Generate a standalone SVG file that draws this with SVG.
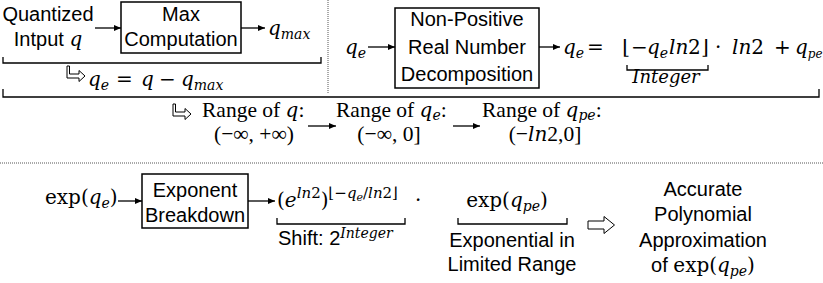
<svg xmlns="http://www.w3.org/2000/svg" width="823" height="283" viewBox="0 0 823 283">
<defs>
<style>
.s{font-family:"Liberation Sans",Arial,sans-serif;font-size:20px;fill:#000}
.m{font-family:"DejaVu Serif","Liberation Serif",serif;font-size:20px;fill:#000}
.r{font-family:"Liberation Serif","DejaVu Serif",serif;font-size:21.5px;fill:#000}
.i{font-style:italic}
.box{fill:#fff;stroke:#000;stroke-width:1.5}
.br{fill:none;stroke:#000;stroke-width:1.3}
.ln{fill:none;stroke:#000;stroke-width:1.3}
.dot{fill:none;stroke:#555;stroke-width:1;stroke-dasharray:1 1}
.hook{fill:#fff;stroke:#000;stroke-width:1}
</style>
<marker id="ah" markerWidth="7" markerHeight="6" refX="7" refY="3" orient="auto" markerUnits="userSpaceOnUse"><path d="M0,0 L7,3 L0,6 Z" fill="#000"/></marker>
<path id="hookShape" d="M0,0 H2.5 V8 H12 V4.5 L18,10 L12,15.5 V12 H0 Z"/>
</defs>
<rect width="823" height="283" fill="#fff"/>

<g id="separators">
<line class="dot" x1="328" y1="0" x2="328" y2="93"/>
<line class="dot" x1="0" y1="163" x2="823" y2="163"/>
</g>

<g id="brackets">
<path class="br" d="M3,57 V63 H321 V57"/>
<path class="br" d="M627,65 V70 H708 V65"/>
<path class="br" d="M3,89 V97 H819 V89" stroke-width="1.6"/>
<path class="br" d="M277,218 V224 H405 V218"/>
<path class="br" d="M458,218 V224 H567 V218"/>
</g>

<g id="connectors">
<line class="ln" x1="95" y1="28" x2="121" y2="28" marker-end="url(#ah)"/>
<line class="ln" x1="241" y1="28" x2="265" y2="28" marker-end="url(#ah)"/>
<line class="ln" x1="368" y1="47" x2="395" y2="47" marker-end="url(#ah)"/>
<line class="ln" x1="539" y1="47" x2="560" y2="47" marker-end="url(#ah)"/>
<line class="ln" x1="308" y1="126" x2="336" y2="126" marker-end="url(#ah)"/>
<line class="ln" x1="453" y1="126" x2="480" y2="126" marker-end="url(#ah)"/>
<line class="ln" x1="118" y1="201" x2="142" y2="201" marker-end="url(#ah)"/>
<line class="ln" x1="248" y1="201" x2="275" y2="201" marker-end="url(#ah)"/>
<use href="#hookShape" class="hook" transform="translate(67,66)"/>
<use href="#hookShape" class="hook" transform="translate(173,104)"/>
<path class="hook" d="M588,221 H604 V216.5 L614.5,225 L604,233.5 V229 H588 Z"/>
</g>

<g id="input">
<text class="s" x="48" y="21" text-anchor="middle">Quantized</text>
<text x="48" y="46" text-anchor="middle"><tspan class="s">Intput </tspan><tspan class="m i">q</tspan></text>
</g>

<g id="max-computation">
<rect class="box" x="121" y="2" width="120" height="51"/>
<text class="s" x="181" y="21" text-anchor="middle">Max</text>
<text class="s" x="181" y="46" text-anchor="middle">Computation</text>
</g>

<g id="qmax">
<text class="m i" x="268" y="35">q<tspan style="font-size:14px" dy="4">max</tspan></text>
</g>

<g id="qe-def">
<text class="m" y="86"><tspan class="i" x="88">q</tspan><tspan class="i" style="font-size:14px" dy="4">e</tspan><tspan dy="-4" x="116">=</tspan><tspan class="i" x="141">q</tspan><tspan x="159">−</tspan><tspan class="i" x="181">q</tspan><tspan class="i" style="font-size:14px" dy="4">max</tspan></text>
</g>

<g id="qe-in">
<text class="m i" x="345" y="54">q<tspan style="font-size:14px" dy="4">e</tspan></text>
</g>

<g id="decomposition">
<rect class="box" x="395" y="8" width="144" height="80"/>
<text class="s" x="467" y="26" text-anchor="middle">Non-Positive</text>
<text class="s" x="467" y="54" text-anchor="middle">Real Number</text>
<text class="s" x="467" y="81" text-anchor="middle">Decomposition</text>
</g>

<g id="decomp-eq">
<text class="m" y="54"><tspan class="i" x="563">q</tspan><tspan class="i" style="font-size:14px" dy="4">e</tspan><tspan dy="-4" x="587">=</tspan><tspan x="622">⌊</tspan><tspan x="631">−</tspan><tspan class="i" x="647">q</tspan><tspan class="i" style="font-size:14px" dy="4">e</tspan><tspan class="i" dy="-4" x="669">ln</tspan><tspan x="688">2</tspan><tspan x="701">⌋</tspan><tspan x="715">·</tspan><tspan class="i" x="732">ln</tspan><tspan>2</tspan><tspan x="774">+</tspan><tspan class="i" x="795">q</tspan><tspan class="i" style="font-size:12px" dy="4">pe</tspan></text>
<text class="m i" x="666" y="83" style="font-size:18px" text-anchor="middle">Integer</text>
</g>

<g id="ranges">
<text class="r" x="202" y="117">Range of <tspan class="m i">q</tspan>:</text>
<text class="r" x="254" y="141" text-anchor="middle">(−∞, +∞)</text>
<text class="r" x="336" y="117">Range of <tspan class="m i">q</tspan><tspan class="m i" style="font-size:14px" dy="3">e</tspan><tspan dy="-3">:</tspan></text>
<text class="r" x="389" y="141" text-anchor="middle">(−∞, 0]</text>
<text class="r" x="482" y="117">Range of <tspan class="m i">q</tspan><tspan class="m i" style="font-size:14px" dy="3">pe</tspan><tspan dy="-3">:</tspan></text>
<text class="r" x="545" y="141" text-anchor="middle">(−<tspan class="m i">ln</tspan>2,0]</text>
</g>

<g id="exp-in">
<text class="m" x="45" y="204">exp(<tspan class="i">q</tspan><tspan class="i" style="font-size:14px" dy="4">e</tspan><tspan dy="-4">)</tspan></text>
</g>

<g id="exponent-breakdown">
<rect class="box" x="142" y="174" width="106" height="54"/>
<text class="s" x="195" y="197" text-anchor="middle">Exponent</text>
<text class="s" x="195" y="222" text-anchor="middle">Breakdown</text>
</g>

<g id="shift-term">
<text class="m" x="277" y="207">(<tspan class="i">e</tspan><tspan style="font-size:15px" dy="-9"><tspan class="i">ln</tspan>2</tspan><tspan dy="9">)</tspan><tspan style="font-size:15px" dy="-9">⌊−<tspan class="i">q</tspan><tspan class="i" style="font-size:11px" dy="3">e</tspan><tspan dy="-3">/</tspan><tspan class="i">ln</tspan>2⌋</tspan></text>
<text x="278" y="245"><tspan class="s">Shift: 2</tspan><tspan class="m i" style="font-size:14px" dy="-7">Integer</tspan></text>
</g>

<g id="limited-term">
<text class="m" x="415" y="207">·</text>
<text class="m" x="507" y="207" text-anchor="middle">exp(<tspan class="i">q</tspan><tspan class="i" style="font-size:14px" dy="4">pe</tspan><tspan dy="-4">)</tspan></text>
<text class="s" x="512" y="247" text-anchor="middle">Exponential in</text>
<text class="s" x="512" y="271" text-anchor="middle">Limited Range</text>
</g>

<g id="polynomial">
<text class="s" x="703" y="196" text-anchor="middle">Accurate</text>
<text class="s" x="703" y="221" text-anchor="middle">Polynomial</text>
<text class="s" x="703" y="247" text-anchor="middle">Approximation</text>
<text x="703" y="272" text-anchor="middle"><tspan class="s">of </tspan><tspan class="m">exp(</tspan><tspan class="m i">q</tspan><tspan class="m i" style="font-size:14px" dy="4">pe</tspan><tspan class="m" dy="-4">)</tspan></text>
</g>
</svg>
